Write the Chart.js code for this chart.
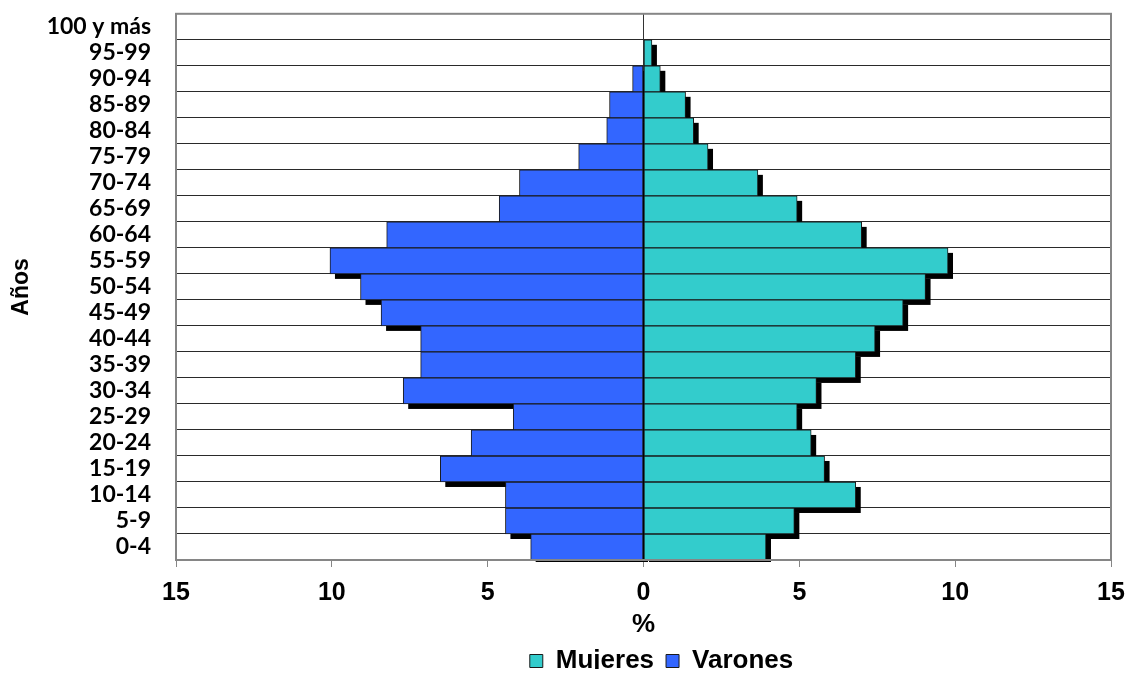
<!DOCTYPE html>
<html>
<head>
<meta charset="utf-8">
<title>Pirámide de población</title>
<script src="https://cdn.jsdelivr.net/npm/chart.js@4.4.1/dist/chart.umd.min.js"></script>
<style>
    html, body { margin: 0; padding: 0; background: #ffffff; }
    canvas { display: block; }
</style>
</head>
<body>
<canvas id="pyramidChart" width="1126" height="673"></canvas>
<script>
// age groups, top of the pyramid first
const ageGroups = [
    "100 y más", "95-99", "90-94", "85-89", "80-84", "75-79", "70-74",
    "65-69", "60-64", "55-59", "50-54", "45-49", "40-44", "35-39",
    "30-34", "25-29", "20-24", "15-19", "10-14", "5-9", "0-4"
];

// % of population, same order as ageGroups
const mujeres = [
    0, 0.27, 0.54, 1.35, 1.61, 2.07, 3.67, 4.93, 7.00, 9.77, 9.05,
    8.33, 7.43, 6.81, 5.55, 4.93, 5.38, 5.81, 6.81, 4.84, 3.93
];
const varones = [
    0, 0, 0.35, 1.09, 1.18, 2.08, 3.98, 4.63, 8.24, 10.06, 9.08,
    8.42, 7.15, 7.15, 7.71, 4.18, 5.53, 6.52, 4.43, 4.43, 3.62
];

const xTicks = [-15, -10, -5, 0, 5, 10, 15];

const mujeresColor = "#33CCCC";
const varonesColor = "#3366FF";

const fontArial = "'Liberation Sans', Arial, sans-serif";

// black drop shadow (Excel style) drawn before each dataset's bars
const shadowPlugin = {
    id: "barShadow",
    beforeDatasetDraw(chart, args) {
        const ctx = chart.ctx;
        const area = chart.chartArea;
        const meta = args.meta;
        ctx.save();
        ctx.beginPath();
        ctx.rect(area.left, area.top, area.right - area.left + 6, area.bottom - area.top + 2);
        ctx.clip();
        ctx.fillStyle = "#000000";
        meta.data.forEach(bar => {
            const p = bar.getProps(["x", "y", "base", "height"], true);
            const left = Math.min(p.x, p.base);
            const w = Math.abs(p.x - p.base);
            if (w < 0.5) return;
            ctx.fillRect(left + 5, p.y - p.height / 2 + 5, w, p.height);
        });
        ctx.restore();
    }
};

// grey frame around the plot area
const framePlugin = {
    id: "plotFrame",
    afterDatasetsDraw(chart) {
        const ctx = chart.ctx;
        const a = chart.chartArea;
        ctx.save();
        ctx.strokeStyle = "#868686";
        ctx.lineWidth = 2;
        ctx.strokeRect(a.left, a.top, a.right - a.left, a.bottom - a.top);
        ctx.restore();
    }
};

// fixed legend height, and legend moved a bit like the original
const legendPlacePlugin = {
    id: "legendPlace",
    beforeInit(chart) {
        const legend = chart.legend;
        if (!legend) return;
        const origFit = legend.fit;
        legend.fit = function() {
            origFit.call(this);
            this.height = 33;
        };
    },
    afterLayout(chart) {
        const legend = chart.legend;
        if (!legend) return;
        legend.left += 106;
        legend.right += 106;
        legend.top -= 4;
        legend.bottom -= 4;
    }
};

const canvas = document.getElementById("pyramidChart");

new Chart(canvas, {
    type: "bar",
    data: {
        labels: ageGroups,
        datasets: [
            {
                label: "Mujeres",
                data: mujeres,
                backgroundColor: mujeresColor,
                borderColor: "#1a1a1a",
                borderWidth: 1,
                borderSkipped: false,
                barPercentage: 1,
                categoryPercentage: 1
            },
            {
                label: "Varones",
                data: varones.map(v => -v),
                backgroundColor: varonesColor,
                borderColor: "#1a1a1a",
                borderWidth: 1,
                borderSkipped: false,
                barPercentage: 1,
                categoryPercentage: 1
            }
        ]
    },
    options: {
        indexAxis: "y",
        responsive: false,
        devicePixelRatio: 1,
        animation: false,
        layout: {
            padding: { top: 12, right: 15, left: 0, bottom: 0 }
        },
        plugins: {
            legend: {
                position: "bottom",
                labels: {
                    color: "#000000",
                    boxWidth: 13,
                    boxHeight: 13,
                    padding: 12,
                    font: { family: fontArial, size: 26, weight: "bold" }
                }
            },
            tooltip: { enabled: false }
        },
        scales: {
            x: {
                type: "linear",
                stacked: true,
                min: -15,
                max: 15,
                afterBuildTicks: scale => {
                    scale.ticks = xTicks.map(v => ({ value: v }));
                },
                afterFit: scale => {
                    scale.height = 80;
                    scale.paddingLeft = 0;
                    scale.paddingRight = 0;
                },
                ticks: {
                    color: "#000000",
                    padding: 11,
                    font: { family: fontArial, size: 25, weight: "bold" },
                    callback: v => Math.abs(v)
                },
                grid: {
                    drawOnChartArea: true,
                    color: ctx => (ctx.tick && ctx.tick.value === 0 ? "#333333" : "rgba(0,0,0,0)"),
                    tickColor: "#868686",
                    tickLength: 7,
                    lineWidth: 1
                },
                border: { display: false },
                title: {
                    display: true,
                    text: "%",
                    color: "#000000",
                    padding: { top: 0, bottom: 0 },
                    font: { family: fontArial, size: 26, weight: "bold" }
                }
            },
            y: {
                stacked: true,
                afterFit: scale => {
                    scale.width = 176;
                },
                ticks: {
                    color: "#000000",
                    padding: 0,
                    autoSkip: false,
                    font: { family: "Lato, 'Noto Sans', sans-serif", size: 23, weight: "bold" }
                },
                grid: {
                    offset: true,
                    drawTicks: true,
                    tickLength: 25,
                    tickColor: "rgba(0,0,0,0)",
                    color: "#2a2a2a",
                    lineWidth: 1
                },
                border: { display: false },
                title: {
                    display: true,
                    text: "Años",
                    color: "#000000",
                    padding: { top: 8, bottom: 0 },
                    font: { family: fontArial, size: 23, weight: "bold" }
                }
            }
        }
    },
    plugins: [legendPlacePlugin, shadowPlugin, framePlugin]
});
</script>
</body>
</html>
